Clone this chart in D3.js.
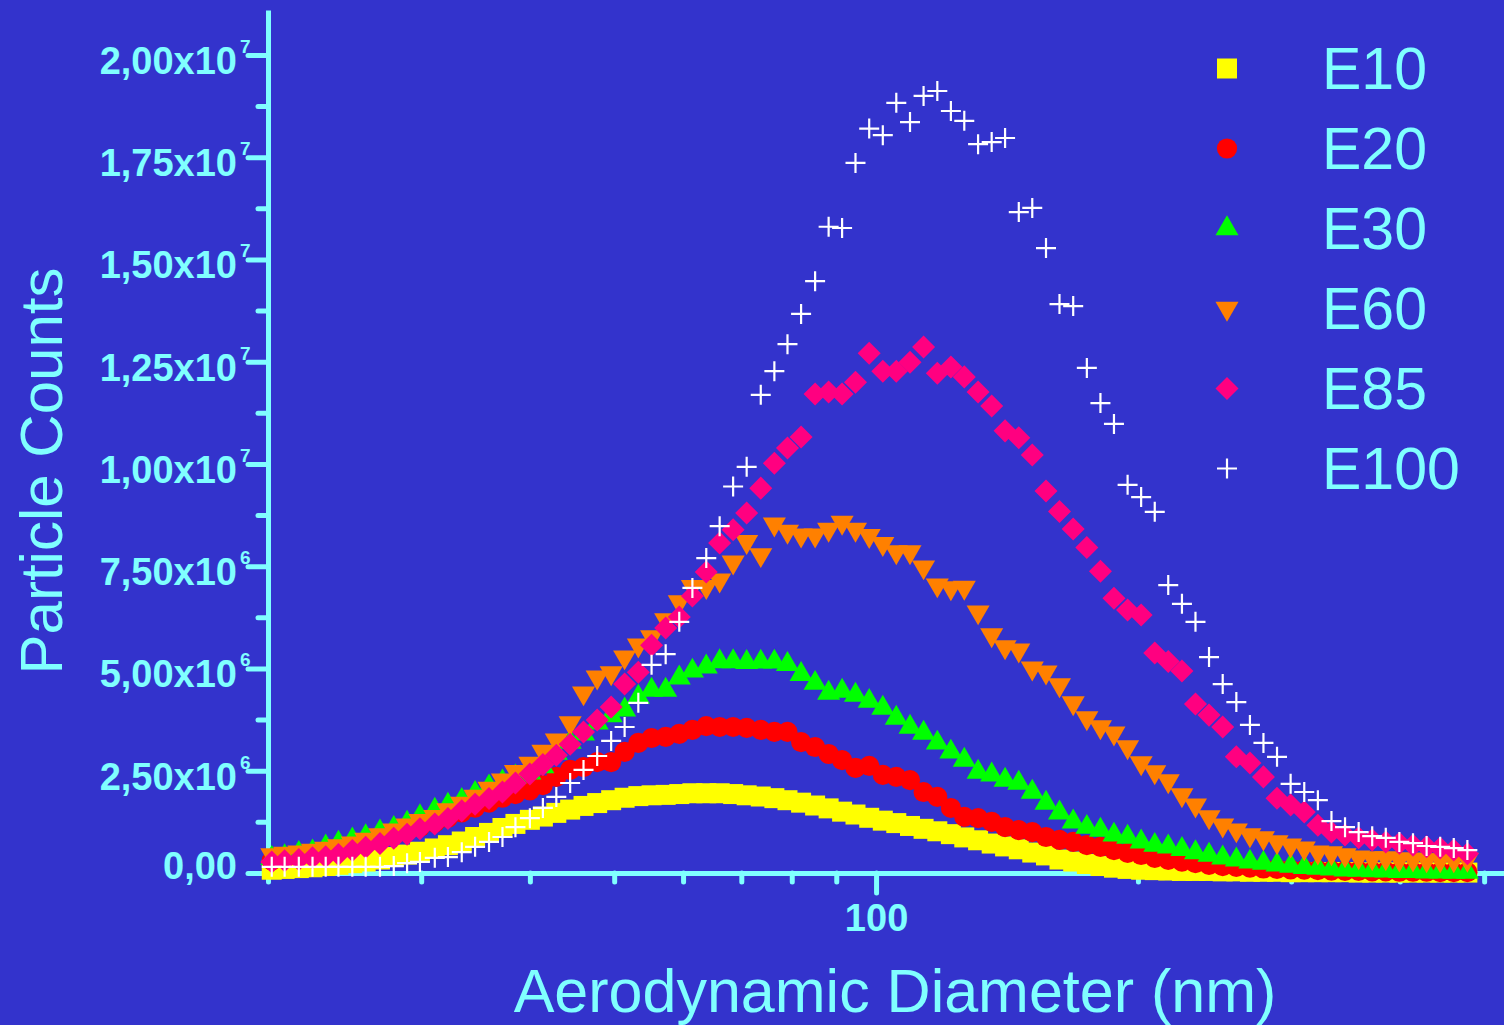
<!DOCTYPE html>
<html>
<head>
<meta charset="utf-8">
<script src="https://cdn.jsdelivr.net/npm/d3@7"></script>
<style>
  html, body { margin: 0; padding: 0; background: #3333cc; }
  svg { display: block; }
  text { font-family: 'Liberation Sans', Arial, sans-serif; fill: #80ffff; }
</style>
</head>
<body>
<div class="chart"></div>
<script>
// aerodynamic diameter (nm), one channel per point
const diameters = [20.2, 20.9, 21.7, 22.5, 23.3, 24.1, 25.0, 25.9, 26.9, 27.9,
  28.9, 29.9, 31.1, 32.2, 33.4, 34.6, 35.9, 37.2, 38.5, 40.0,
  41.4, 42.9, 44.5, 46.1, 47.8, 49.6, 51.4, 53.3, 55.2, 57.3,
  59.4, 61.5, 63.8, 66.1, 68.5, 71.0, 73.7, 76.4, 79.1, 82.0,
  85.1, 88.2, 91.4, 94.7, 98.2, 101.8, 105.5, 109.4, 113.4, 117.6,
  121.9, 126.3, 131.0, 135.8, 140.7, 145.9, 151.2, 156.8, 162.5, 168.5,
  174.7, 181.1, 187.7, 194.6, 201.7, 209.1, 216.7, 224.7, 232.9, 241.4,
  250.3, 259.5, 269.0, 278.8, 289.0, 299.6, 310.6, 322.0, 333.8, 346.0,
  358.7, 371.8, 385.4, 399.5, 414.2, 429.4, 445.1, 461.4, 478.3];

// particle counts, in millions
const e10 = [0.08, 0.1, 0.12, 0.14, 0.17, 0.2, 0.24, 0.28, 0.33, 0.39,
  0.45, 0.52, 0.6, 0.68, 0.77, 0.88, 0.98, 1.1, 1.2, 1.3,
  1.38, 1.47, 1.55, 1.64, 1.71, 1.78, 1.84, 1.88, 1.9, 1.91,
  1.93, 1.95, 1.95, 1.95, 1.93, 1.9, 1.87, 1.83, 1.78, 1.72,
  1.65, 1.58, 1.5, 1.43, 1.35, 1.28, 1.22, 1.15, 1.08, 1.02,
  0.95, 0.87, 0.8, 0.72, 0.65, 0.58, 0.5, 0.43, 0.33, 0.28,
  0.22, 0.17, 0.13, 0.1, 0.08, 0.07, 0.06, 0.05, 0.05, 0.05,
  0.04, 0.04, 0.03, 0.03, 0.03, 0.02, 0.02, 0.02, 0.02, 0.02,
  0.01, 0.01, 0.01, 0.01, 0.01, 0.01, 0.01, 0.01, 0.01];

const e20 = [0.3, 0.35, 0.4, 0.45, 0.5, 0.57, 0.65, 0.73, 0.82, 0.92,
  1.02, 1.12, 1.23, 1.35, 1.48, 1.6, 1.72, 1.84, 1.93, 2.02,
  2.15, 2.35, 2.52, 2.59, 2.71, 2.71, 2.96, 3.18, 3.3, 3.33,
  3.4, 3.5, 3.59, 3.57, 3.57, 3.55, 3.5, 3.45, 3.45, 3.2,
  3.08, 2.91, 2.76, 2.57, 2.62, 2.4, 2.35, 2.27, 1.98, 1.86,
  1.59, 1.37, 1.34, 1.25, 1.12, 1.05, 1.0, 0.88, 0.81, 0.76,
  0.68, 0.64, 0.56, 0.49, 0.44, 0.37, 0.32, 0.28, 0.24, 0.2,
  0.17, 0.15, 0.13, 0.11, 0.1, 0.09, 0.08, 0.07, 0.06, 0.05,
  0.05, 0.04, 0.04, 0.03, 0.03, 0.03, 0.02, 0.02, 0.02];

const e30 = [0.36, 0.4, 0.48, 0.52, 0.64, 0.73, 0.81, 0.89, 1.01, 1.09,
  1.22, 1.38, 1.54, 1.66, 1.78, 1.95, 2.11, 2.23, 2.35, 2.45,
  2.6, 2.93, 3.2, 3.4, 3.67, 3.85, 3.99, 4.3, 4.47, 4.47,
  4.77, 4.94, 5.04, 5.17, 5.17, 5.15, 5.16, 5.16, 5.1, 4.86,
  4.64, 4.4, 4.45, 4.35, 4.2, 4.03, 3.79, 3.57, 3.42, 3.18,
  2.96, 2.76, 2.47, 2.4, 2.27, 2.2, 1.98, 1.71, 1.47, 1.25,
  1.12, 1.05, 0.93, 0.88, 0.76, 0.68, 0.64, 0.58, 0.5, 0.44,
  0.37, 0.32, 0.27, 0.24, 0.2, 0.17, 0.14, 0.12, 0.1, 0.08,
  0.07, 0.06, 0.05, 0.04, 0.04, 0.03, 0.03, 0.02, 0.02];

const e60 = [0.44, 0.48, 0.51, 0.55, 0.6, 0.66, 0.73, 0.82, 0.93, 1.05,
  1.17, 1.28, 1.38, 1.54, 1.7, 1.87, 2.07, 2.27, 2.48, 2.68,
  2.97, 3.25, 3.67, 4.4, 4.79, 4.89, 5.28, 5.57, 5.77, 6.19,
  6.63, 7.0, 7.0, 7.16, 7.6, 8.1, 7.78, 8.53, 8.35, 8.26,
  8.26, 8.4, 8.57, 8.4, 8.25, 8.05, 7.85, 7.85, 7.48, 7.04,
  6.97, 6.98, 6.38, 5.82, 5.53, 5.45, 5.01, 4.91, 4.6, 4.16,
  3.79, 3.57, 3.42, 3.08, 2.69, 2.47, 2.25, 1.91, 1.66, 1.37,
  1.17, 1.05, 0.93, 0.86, 0.76, 0.68, 0.61, 0.51, 0.49, 0.44,
  0.39, 0.37, 0.37, 0.34, 0.34, 0.32, 0.32, 0.32, 0.33];

const e85 = [0.27, 0.3, 0.33, 0.37, 0.4, 0.45, 0.55, 0.63, 0.72, 0.85,
  0.95, 1.08, 1.2, 1.33, 1.52, 1.68, 1.82, 1.98, 2.2, 2.42,
  2.65, 2.88, 3.15, 3.45, 3.74, 4.06, 4.62, 4.91, 5.57, 5.99,
  6.26, 6.77, 7.36, 8.07, 8.39, 8.8, 9.41, 10.02, 10.39, 10.66,
  11.71, 11.76, 11.71, 12.0, 12.71, 12.27, 12.27, 12.49, 12.86, 12.22,
  12.37, 12.13, 11.76, 11.42, 10.81, 10.64, 10.22, 9.34, 8.84, 8.41,
  7.96, 7.38, 6.72, 6.43, 6.31, 5.38, 5.17, 4.94, 4.13, 3.86,
  3.57, 2.84, 2.69, 2.35, 1.83, 1.66, 1.49, 1.17, 1.0, 0.93,
  0.86, 0.81, 0.76, 0.73, 0.68, 0.64, 0.61, 0.56, 0.47];

const e100 = [0.15, 0.15, 0.15, 0.15, 0.15, 0.15, 0.15, 0.15, 0.15, 0.17,
  0.24, 0.27, 0.37, 0.39, 0.51, 0.64, 0.76, 0.88, 1.12, 1.34,
  1.59, 1.86, 2.2, 2.52, 2.86, 3.23, 3.57, 4.16, 5.09, 5.35,
  6.14, 6.97, 7.7, 8.48, 9.45, 9.93, 11.69, 12.27, 12.93, 13.67,
  14.47, 15.8, 15.77, 17.36, 18.2, 18.04, 18.83, 18.36, 19.0, 19.12,
  18.63, 18.39, 17.82, 17.87, 17.97, 16.16, 16.26, 15.28, 13.91, 13.86,
  12.35, 11.49, 10.98, 9.49, 9.19, 8.83, 7.04, 6.58, 6.14, 5.28,
  4.62, 4.18, 3.62, 3.18, 2.84, 2.18, 1.98, 1.78, 1.27, 1.12,
  1.0, 0.9, 0.86, 0.76, 0.73, 0.66, 0.64, 0.61, 0.56];

const seriesNames = ['E10', 'E20', 'E30', 'E60', 'E85', 'E100'];
const seriesValues = [e10, e20, e30, e60, e85, e100];
const seriesColors = ['#ffff00', '#ff0000', '#00ff00', '#ff8000', '#ff0080', '#ffffff'];

const yTickValues = [0, 2.5, 5, 7.5, 10, 12.5, 15, 17.5, 20];
const yMinorValues = [1.25, 3.75, 6.25, 8.75, 11.25, 13.75, 16.25, 18.75];
const yTickMantissa = ['0,00', '2,50', '5,00', '7,50', '1,00', '1,25', '1,50', '1,75', '2,00'];
const yTickExponent = ['', '6', '6', '6', '7', '7', '7', '7', '7'];

const xMajorValues = [100];
const xMajorLabels = ['100'];
const xMinorValues = [20, 30, 40, 50, 60, 70, 80, 90, 200, 300, 400, 500];

function markerPath(i) {
  // one marker shape per series
  switch (i) {
    case 0: return d3.symbol(d3.symbolSquare, 400)();
    case 1: return d3.symbol(d3.symbolCircle, 320)();
    case 2: return d3.symbol(d3.symbolTriangle, 230)();
    case 3: return d3.symbol(d3.symbolTriangle, 230)();
    case 4: return d3.symbol(d3.symbolSquare, 265)();
    default: return 'M-10,0H10M0,-10V10';
  }
}
function markerRotation(i) {
  if (i === 3) return ' rotate(180)';
  if (i === 4) return ' rotate(45)';
  return '';
}

function styleMarker(sel, i) {
  if (i === 5) {
    sel.attr('fill', 'none').attr('stroke', seriesColors[i]).attr('stroke-width', 2.2);
  } else {
    sel.attr('fill', seriesColors[i]).attr('stroke', 'none');
  }
}

function drawGraph() {

  const width = 1504;
  const height = 1025;
  const color = '#80ffff';

  d3.select('.chart svg').remove();

  const svg = d3.select('.chart')
                .append('svg:svg')
                .attr('width', width)
                .attr('height', height)
                .attr('viewBox', [0, 0, width, height]);

  svg.append('rect')
     .attr('width', width)
     .attr('height', height)
     .attr('fill', '#3333cc');

  const x = d3.scaleLog()
              .domain([20, 527])
              .range([268, 1504]);

  const y = d3.scaleLinear()
              .domain([0, 21.1])
              .range([873, 10]);

  const styleAxis = g => g
    .call(g => g.select('.domain').attr('stroke', color).attr('stroke-width', 5))
    .call(g => g.selectAll('.tick line')
      .attr('stroke', color).attr('stroke-width', 5).attr('stroke-linecap', 'round'));

  // x axis: minor ticks, then major tick with label
  svg.append('svg:g')
     .attr('transform', `translate(0,${y(0)})`)
     .call(d3.axisBottom(x).tickValues(xMinorValues).tickSize(9).tickSizeOuter(0).tickFormat(''))
     .call(styleAxis);

  const xMajor = svg.append('svg:g')
     .attr('transform', `translate(0,${y(0)})`)
     .call(d3.axisBottom(x).tickValues(xMajorValues).tickSize(20).tickSizeOuter(0)
       .tickFormat((d, i) => xMajorLabels[i]))
     .call(styleAxis);
  xMajor.select('.domain').remove();
  xMajor.selectAll('.tick text')
     .attr('y', 58).attr('dy', null)
     .attr('fill', color)
     .style('font-size', '38px').style('font-weight', 'bold')
     .style('font-family', "'Liberation Sans', Arial, sans-serif");

  // y axis
  svg.append('svg:g')
     .attr('transform', `translate(${x(20)},0)`)
     .call(d3.axisLeft(y).tickValues(yMinorValues).tickSize(10).tickSizeOuter(0).tickFormat(''))
     .call(styleAxis);

  const yMajor = svg.append('svg:g')
     .attr('transform', `translate(${x(20)},0)`)
     .call(d3.axisLeft(y).tickValues(yTickValues).tickSize(20).tickSizeOuter(0).tickFormat(''))
     .call(styleAxis);
  yMajor.select('.domain').remove();

  const yLabels = svg.append('svg:g')
     .style('font-weight', 'bold');

  yTickValues.forEach((v, i) => {
    const exp = yTickExponent[i];
    yLabels.append('svg:text')
       .attr('x', 237)
       .attr('y', y(v) + (exp ? 19 : 6))
       .attr('text-anchor', 'end')
       .style('font-size', '38px')
       .text(exp ? yTickMantissa[i] + 'x10' : yTickMantissa[i]);
    if (exp) {
      yLabels.append('svg:text')
         .attr('x', 240)
         .attr('y', y(v) - 2)
         .style('font-size', '19px')
         .text(exp);
    }
  });

  // data markers, E10 first so E100 ends up on top
  seriesValues.forEach((vals, i) => {
    svg.append('svg:g')
       .selectAll('path')
       .data(vals)
       .enter().append('svg:path')
       .attr('d', markerPath(i))
       .attr('transform', (d, j) => `translate(${x(diameters[j])},${y(d)})` + markerRotation(i))
       .call(sel => styleMarker(sel, i));
  });

  // legend
  const legend = svg.append('svg:g');
  seriesNames.forEach((name, i) => {
    const cy = 68.5 + i * 80;
    legend.append('svg:path')
       .attr('d', markerPath(i))
       .attr('transform', `translate(1227,${cy})` + markerRotation(i))
       .call(sel => styleMarker(sel, i));
    legend.append('svg:text')
       .attr('x', 1322)
       .attr('y', cy + 20.5)
       .style('font-size', '59px')
       .text(name);
  });

  // axis titles
  svg.append('svg:text')
     .attr('x', 895)
     .attr('y', 1012)
     .attr('text-anchor', 'middle')
     .style('font-size', '61px')
     .text('Aerodynamic Diameter (nm)');

  svg.append('svg:text')
     .attr('transform', 'translate(62,471) rotate(-90)')
     .attr('text-anchor', 'middle')
     .style('font-size', '60px')
     .text('Particle Counts');
}

drawGraph();
</script>
</body>
</html>
